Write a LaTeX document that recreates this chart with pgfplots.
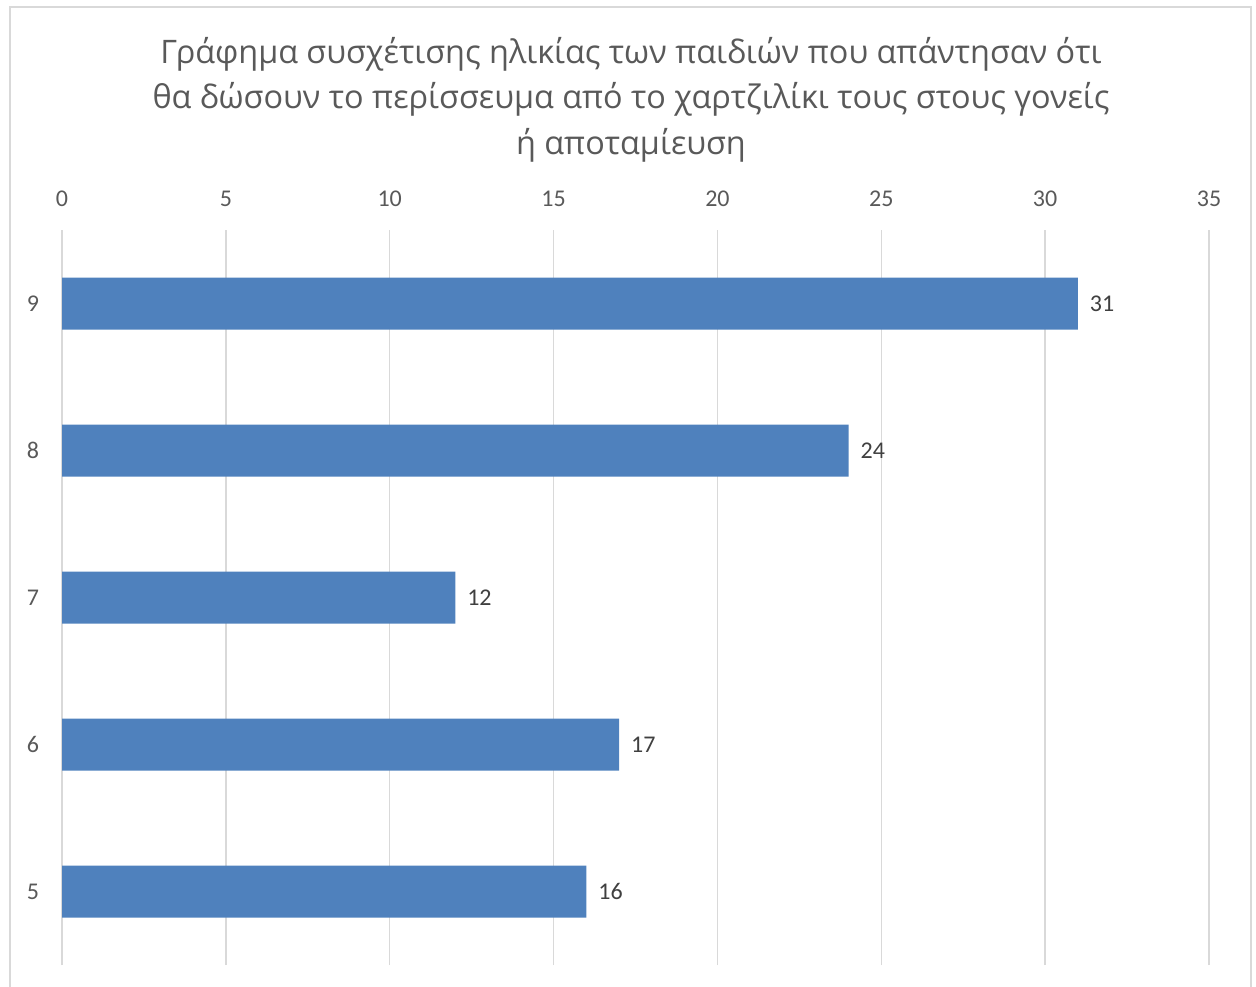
\documentclass[border=0pt]{standalone}
\usepackage{pgfplots}
\pgfplotsset{compat=1.18}
\usepackage{fontspec}
\setmainfont{Carlito}
\newfontfamily\titlefont{Open Sans}
\definecolor{barblue}{HTML}{4F81BD}
\definecolor{txtgray}{HTML}{595959}
\definecolor{lblgray}{HTML}{404040}
\definecolor{gridgray}{HTML}{D9D9D9}
\begin{document}
\begin{tikzpicture}[x=0.5pt,y=0.5pt]
\useasboundingbox (0,0) rectangle (1256,986);
\draw[gridgray, line width=1pt] (10,-5) -- (10,979) -- (1250.5,979) -- (1250.5,-5);
\begin{scope}[every node/.style={font=\titlefont\fontsize{16.2pt}{19pt}\selectfont, text=txtgray}]
\node at (631,932) {Γράφημα συσχέτισης ηλικίας των παιδιών που απάντησαν ότι};
\node at (631,887) {θα δώσουν το περίσσευμα από το χαρτζιλίκι τους στους γονείς};
\node at (631,841) {ή αποταμίευση};
\end{scope}
\begin{axis}[at={(31pt,10.5pt)}, anchor=south west, scale only axis,
  width=573.5pt, height=367.5pt,
  xbar, xmin=0, xmax=35, ymin=-0.5, ymax=4.5,
  xtick={0,5,...,35}, ytick={0,1,2,3,4}, yticklabels={5,6,7,8,9},
  xticklabel pos=upper,
  bar width=26pt,
  xmajorgrids, ymajorgrids=false,
  major grid style={draw=gridgray, line width=0.75pt},
  axis line style={draw=none},
  major tick length=0pt,
  tick label style={font=\fontsize{12pt}{14pt}\selectfont, text=txtgray},
  xticklabel style={yshift=8pt},
  yticklabel style={xshift=-8pt},
  /pgf/number format/assume math mode=true,
  nodes near coords,
  nodes near coords style={font=\fontsize{12pt}{14pt}\selectfont, text=lblgray, anchor=west, xshift=2.5pt},
  clip=false,
]
\addplot[fill=barblue, draw=none] coordinates {(16,0) (17,1) (12,2) (24,3) (31,4)};
\end{axis}
\end{tikzpicture}
\end{document}
